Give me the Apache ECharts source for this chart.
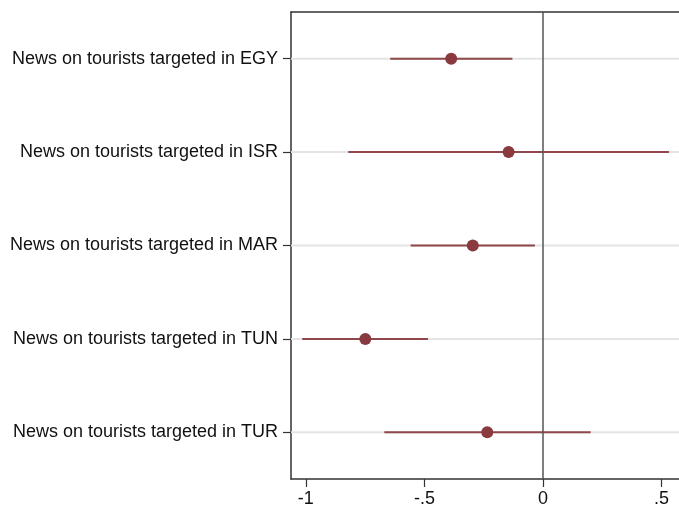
<!DOCTYPE html>
<html><head><meta charset="utf-8">
<script src="https://cdn.jsdelivr.net/npm/echarts@6/dist/echarts.min.js"></script>
<style>html,body{margin:0;padding:0;background:#fff}#c{width:679px;height:508px}</style>
</head><body><div id="c"></div>
<script>
var categories = ['News on tourists targeted in EGY','News on tourists targeted in ISR','News on tourists targeted in MAR','News on tourists targeted in TUN','News on tourists targeted in TUR'];
var estimates = [-0.387, -0.145, -0.296, -0.749, -0.235];
var lowerCI = [-0.644, -0.821, -0.558, -1.015, -0.669];
var upperCI = [-0.129, 0.531, -0.034, -0.485, 0.201];
var xTicks = [-1, -0.5, 0, 0.5];
var xTickLabels = ['-1', '-.5', '0', '.5'];

var chart = echarts.init(document.getElementById('c'));
var font = 'Liberation Sans, Arial, Helvetica, sans-serif';
var ciData = categories.map(function(c,i){ return [lowerCI[i], upperCI[i], i]; });
var XMIN = -1.0624, XMAX = 0.5734;
chart.setOption({
  animation:false,
  grid:{left:291, top:12, right:0, bottom:29, show:false},
  xAxis:[{type:'value', min:XMIN, max:XMAX,
    axisLine:{show:true, onZero:false, lineStyle:{color:'#333', width:1.5}},
    axisTick:{show:true, length:8, lineStyle:{color:'#333', width:1.2}, customValues:xTicks},
    axisLabel:{customValues:xTicks, color:'#111', fontSize:18, fontFamily:font, margin:11,
      formatter:function(v){ var k = xTicks.indexOf(Math.round(v*100)/100); return k>=0 ? xTickLabels[k] : ''; }},
    splitLine:{show:false}},
    {type:'value', position:'top', min:XMIN, max:XMAX,
    axisLine:{show:true, onZero:false, lineStyle:{color:'#333', width:1.5}},
    axisTick:{show:false}, axisLabel:{show:false}, splitLine:{show:false}}],
  yAxis:{type:'category', data:categories, inverse:true,
    axisLine:{show:true, onZero:false, lineStyle:{color:'#333', width:1.5}},
    axisTick:{show:true, alignWithLabel:true, length:8, lineStyle:{color:'#333', width:1.2}},
    axisLabel:{color:'#111', fontSize:18, fontFamily:font, margin:13},
    splitLine:{show:false}},
  series:[
    {type:'custom', data:categories.map(function(c,i){return [0,i];}), encode:{x:0, y:1}, z:1, silent:true,
      renderItem:function(params, api){
        var p = api.coord([0, api.value(1)]);
        var cs = params.coordSys;
        return {type:'line', shape:{x1:cs.x, y1:p[1], x2:cs.x+cs.width, y2:p[1]}, style:{stroke:'#e4e4e4', lineWidth:2}};
      }},
    {type:'custom', data:ciData, encode:{x:[0,1], y:2}, z:2, silent:true,
      renderItem:function(params, api){
        var y = api.value(2);
        var a = api.coord([api.value(0), y]);
        var b = api.coord([api.value(1), y]);
        return {type:'line', shape:{x1:a[0], y1:a[1], x2:b[0], y2:b[1]}, style:{stroke:'#8f474b', lineWidth:2}};
      }},
    {type:'scatter', data:estimates.map(function(v,i){return [v,i];}), symbol:'circle', symbolSize:12, z:4,
      itemStyle:{color:'#8a3a3e', opacity:1},
      markLine:{silent:true, symbol:['none','none'], label:{show:false}, z:3,
        lineStyle:{color:'#555', width:1.5, type:'solid'}, data:[{xAxis:0}]}}
  ]
});
</script></body></html>
